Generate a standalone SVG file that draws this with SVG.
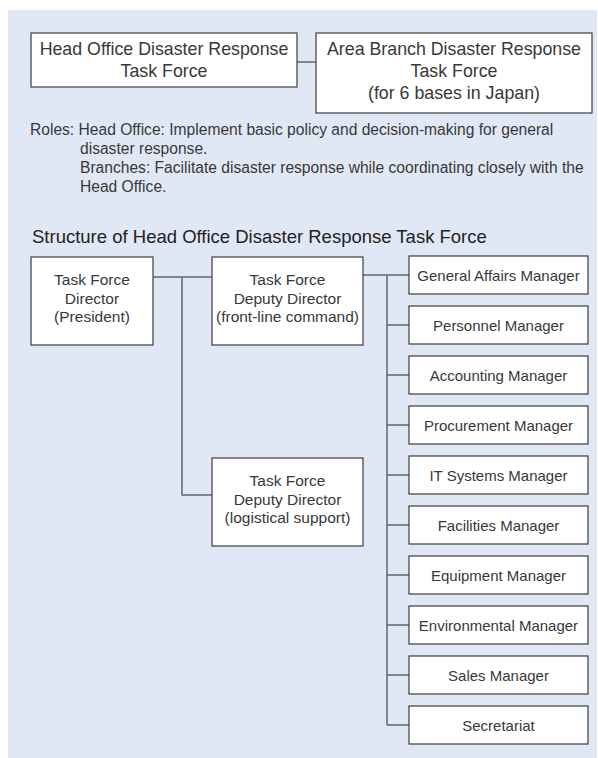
<svg xmlns="http://www.w3.org/2000/svg" width="598" height="758" viewBox="0 0 598 758">
<style>
.box{fill:#ffffff;stroke:#3c3c3c;stroke-width:1.2}
.t{font-family:"Liberation Sans",Arial,sans-serif;fill:#383838;text-anchor:middle}
.big{font-size:17.8px}
.node{font-size:15.5px}
.mgr{font-size:15px}
.para{font-family:"Liberation Sans",Arial,sans-serif;fill:#383838;font-size:15.6px}
.conn{fill:none;stroke:#666666;stroke-width:1.5}
</style>
<rect x="8" y="10" width="589" height="748" fill="#e1e8f5"/>
<g id="connectors">
<path class="conn" d="M297 62H316"/>
<path class="conn" d="M153 277H212M182 277V495H212"/>
<path class="conn" d="M363 275H409M387 275V725M387 325H409M387 375H409M387 425H409M387 475H409M387 525H409M387 575H409M387 625H409M387 675H409M387 725H409"/>
</g>
<g id="head-office">
<rect class="box" x="31" y="33" width="266" height="54"/>
<text class="t big" x="164" y="55">Head Office Disaster Response</text>
<text class="t big" x="164" y="77">Task Force</text>
</g>
<g id="area-branch">
<rect class="box" x="316" y="33" width="276" height="80"/>
<text class="t big" x="454" y="55">Area Branch Disaster Response</text>
<text class="t big" x="454" y="77">Task Force</text>
<text class="t big" x="454" y="99">(for 6 bases in Japan)</text>
</g>
<g id="roles">
<text class="para" x="30" y="135">Roles: Head Office: Implement basic policy and decision-making for general</text>
<text class="para" x="80" y="154">disaster response.</text>
<text class="para" x="80" y="173">Branches: Facilitate disaster response while coordinating closely with the</text>
<text class="para" x="80" y="192">Head Office.</text>
</g>
<text id="structure-title" x="32" y="243" font-family="Liberation Sans, Arial, sans-serif" font-size="18.5" fill="#222222">Structure of Head Office Disaster Response Task Force</text>
<g id="director">
<rect class="box" x="31" y="257" width="122" height="88"/>
<text class="t node" x="92" y="285">Task Force</text>
<text class="t node" x="92" y="303.5">Director</text>
<text class="t node" x="92" y="322">(President)</text>
</g>
<g id="deputy-frontline">
<rect class="box" x="212" y="257" width="151" height="88"/>
<text class="t node" x="287.5" y="285">Task Force</text>
<text class="t node" x="287.5" y="303.5">Deputy Director</text>
<text class="t node" x="287.5" y="322">(front-line command)</text>
</g>
<g id="deputy-logistics">
<rect class="box" x="212" y="458" width="151" height="88"/>
<text class="t node" x="287.5" y="486">Task Force</text>
<text class="t node" x="287.5" y="504.5">Deputy Director</text>
<text class="t node" x="287.5" y="523">(logistical support)</text>
</g>
<g id="general-affairs"><rect class="box" x="409" y="256" width="179" height="38"/><text class="t mgr" x="498.5" y="280.5">General Affairs Manager</text></g>
<g id="personnel"><rect class="box" x="409" y="306" width="179" height="38"/><text class="t mgr" x="498.5" y="330.5">Personnel Manager</text></g>
<g id="accounting"><rect class="box" x="409" y="356" width="179" height="38"/><text class="t mgr" x="498.5" y="380.5">Accounting Manager</text></g>
<g id="procurement"><rect class="box" x="409" y="406" width="179" height="38"/><text class="t mgr" x="498.5" y="430.5">Procurement Manager</text></g>
<g id="it-systems"><rect class="box" x="409" y="456" width="179" height="38"/><text class="t mgr" x="498.5" y="480.5">IT Systems Manager</text></g>
<g id="facilities"><rect class="box" x="409" y="506" width="179" height="38"/><text class="t mgr" x="498.5" y="530.5">Facilities Manager</text></g>
<g id="equipment"><rect class="box" x="409" y="556" width="179" height="38"/><text class="t mgr" x="498.5" y="580.5">Equipment Manager</text></g>
<g id="environmental"><rect class="box" x="409" y="606" width="179" height="38"/><text class="t mgr" x="498.5" y="630.5">Environmental Manager</text></g>
<g id="sales"><rect class="box" x="409" y="656" width="179" height="38"/><text class="t mgr" x="498.5" y="680.5">Sales Manager</text></g>
<g id="secretariat"><rect class="box" x="409" y="706" width="179" height="38"/><text class="t mgr" x="498.5" y="730.5">Secretariat</text></g>
</svg>
